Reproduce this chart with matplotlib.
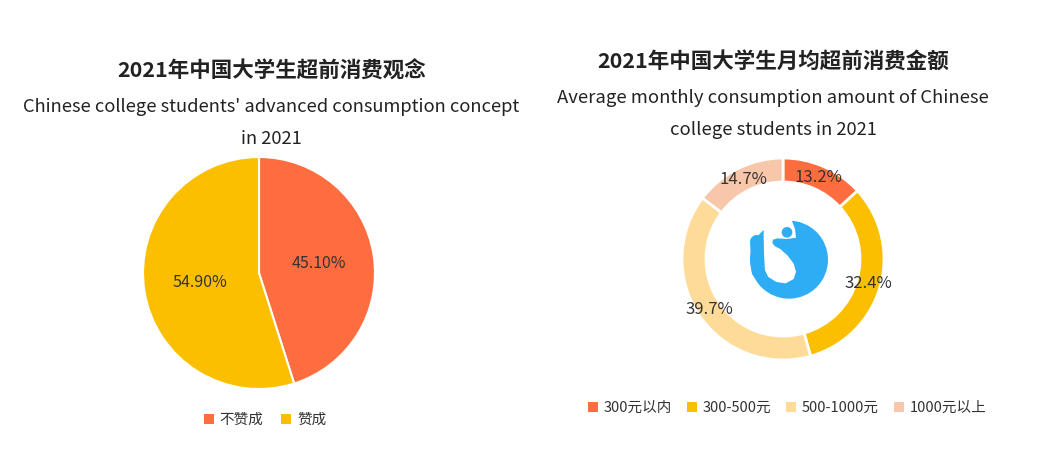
import matplotlib
matplotlib.use("Agg")
import matplotlib.pyplot as plt
from matplotlib.patches import Circle, Polygon, Patch
import numpy as np

plt.rcParams['font.family'] = ['Noto Sans CJK SC', 'DejaVu Sans']

# Data
left_labels = ['不赞成', '赞成']
left_values = [45.10, 54.90]
left_colors = ['#FE6D3F', '#FCBF00']

right_labels = ['300元以内', '300-500元', '500-1000元', '1000元以上']
right_values = [13.2, 32.4, 39.7, 14.7]
right_colors = ['#FE6D3F', '#FCBF00', '#FEDB99', '#F8C6A8']

left_title = '2021年中国大学生超前消费观念'
left_sub = "Chinese college students' advanced consumption concept\nin 2021"
right_title = '2021年中国大学生月均超前消费金额'
right_sub = 'Average monthly consumption amount of Chinese\ncollege students in 2021'

W, H = 1044, 469
fig = plt.figure(figsize=(W / 100, H / 100), dpi=100)
fig.patch.set_facecolor('white')


def px_axes(cx, cy, r):
    return fig.add_axes([(cx - r) / W, 1 - (cy + r) / H, 2 * r / W, 2 * r / H])

# Left pie
axl = px_axes(259, 273, 116)
axl.pie(left_values, colors=left_colors, startangle=90, counterclock=False,
        radius=1, wedgeprops=dict(edgecolor='white', linewidth=1.5),
        autopct='%.2f%%', pctdistance=0.52,
        textprops=dict(fontsize=11.5, color='#333333'))
axl.set_xlim(-1, 1); axl.set_ylim(-1, 1)
axl.set_aspect('equal'); axl.axis('off')

# Right donut
R = 101
axr = px_axes(783, 259, R)
inner = 77 / R
axr.pie(right_values, colors=right_colors, startangle=90, counterclock=False,
        radius=1, wedgeprops=dict(width=1 - inner, edgecolor='white', linewidth=2),
        autopct='%.1f%%', pctdistance=(1 + inner) / 2,
        textprops=dict(fontsize=12, color='#333333'))
axr.set_xlim(-1, 1); axr.set_ylim(-1, 1)
axr.set_aspect('equal'); axr.axis('off')

# Titles
fig.text(272 / W, 1 - 71 / H, left_title, ha='center', va='center',
         fontsize=15.5, fontweight='bold', color='#222222')
fig.text(271 / W, 1 - 123 / H, left_sub, ha='center', va='center',
         fontsize=13.2, color='#222222', linespacing=1.95)
fig.text(773 / W, 1 - 61 / H, right_title, ha='center', va='center',
         fontsize=15.5, fontweight='bold', color='#222222')
fig.text(773 / W, 1 - 114 / H, right_sub, ha='center', va='center',
         fontsize=13.3, color='#222222', linespacing=1.95)

# Legends
hl = [Patch(facecolor=c, edgecolor='none') for c in left_colors]
fig.legend(hl, left_labels, loc='center', bbox_to_anchor=(265 / W, 1 - 420 / H),
           ncol=2, frameon=False, fontsize=10.5, handlelength=0.7, handleheight=0.7,
           handletextpad=0.4, columnspacing=1.2, labelcolor='#333333')
hr = [Patch(facecolor=c, edgecolor='none') for c in right_colors]
fig.legend(hr, right_labels, loc='center', bbox_to_anchor=(787 / W, 1 - 408 / H),
           ncol=4, frameon=False, fontsize=10.5, handlelength=0.7, handleheight=0.7,
           handletextpad=0.4, columnspacing=1.0, labelcolor='#333333')

# Decorative logo in the donut centre (pixel overlay)
axo = fig.add_axes([0, 0, 1, 1], facecolor='none')
axo.set_xlim(0, W); axo.set_ylim(H, 0); axo.axis('off')


def z(pts):
    return [(745 + x / 3, 215 + y / 3) for x, y in pts]

blue = '#2EADF4'
cx, cy = z([(132, 134)])[0]
axo.add_patch(Circle((cx, cy), 117 / 3, color=blue, lw=0))
# left arm (thick rounded stroke)
(a1x, a1y), (a2x, a2y) = z([(35, 80), (40, 170)])
axo.plot([a1x, a2x], [a1y, a2y], color=blue, lw=40 / 3 * 0.72,
         solid_capstyle='round')
# white channel / teardrop
white_pts = z([(56, -10), (138, -10), (141, 18), (150, 42), (153, 68),
               (125, 72), (98, 70), (84, 74), (82, 84), (90, 94), (106, 102),
               (128, 122), (146, 146), (153, 170), (146, 192), (122, 205),
               (94, 201), (70, 186), (57, 160), (56, 120), (56, 80)])
axo.add_patch(Polygon(white_pts, closed=True, color='white', lw=0))
# head
hx, hy = z([(126, 52)])[0]
axo.add_patch(Circle((hx, hy), 16 / 3, color=blue, lw=0))

fig.savefig('out.png', dpi=100, facecolor='white')
